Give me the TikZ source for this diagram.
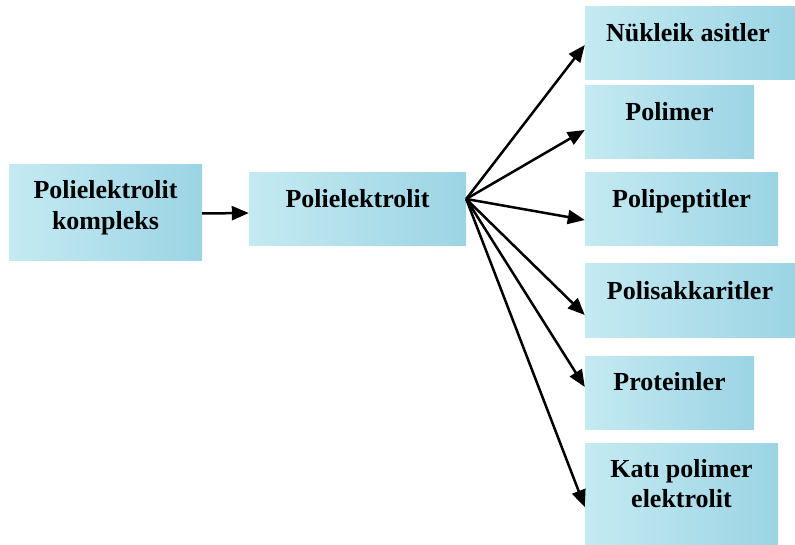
\documentclass[tikz,border=0pt]{standalone}
\usepackage{fontspec}
\setmainfont{Liberation Serif}
\usetikzlibrary{arrows.meta}
\definecolor{aqL}{RGB}{196,234,242}
\definecolor{aqR}{RGB}{156,212,228}
\tikzset{
  box/.style={draw=none, inner sep=0pt, left color=aqL, right color=aqR, shading angle=90},
  lbl/.style={font=\bfseries\fontsize{26}{31}\selectfont, inner sep=0pt, anchor=base},
  arr/.style={line width=2.5pt, -{Triangle[length=17pt,width=14pt]}}
}
\begin{document}
\begin{tikzpicture}[x=1pt,y=-1pt]
\useasboundingbox (0,0) rectangle (795,545);
% boxes
\node[box, minimum width=193, minimum height=96] (A) at (105.5,213) {};
\node[box, minimum width=217, minimum height=73] (B) at (357.5,209.5) {};
\node[box, minimum width=210, minimum height=73] (nuk) at (690,43.5) {};
\node[box, minimum width=169, minimum height=73] (pol) at (669.5,122) {};
\node[box, minimum width=193, minimum height=73] (pep) at (681.5,209.5) {};
\node[box, minimum width=210, minimum height=73] (sak) at (690,300.5) {};
\node[box, minimum width=169, minimum height=73] (pro) at (669.5,392.5) {};
\node[box, minimum width=193, minimum height=102] (kat) at (681.5,494) {};
% labels
\node[lbl] (tA1) at (105.5,199) {Polielektrolit};
\node[lbl] (tA2) at (105.5,230) {kompleks};
\node[lbl] (tB) at (357.5,208) {Polielektrolit};
\node[lbl] (tnuk) at (688,42) {Nükleik asitler};
\node[lbl] (tpol) at (669.5,121) {Polimer};
\node[lbl] (tpep) at (681.5,207.5) {Polipeptitler};
\node[lbl] (tsak) at (690,300) {Polisakkaritler};
\node[lbl] (tpro) at (669.5,390) {Proteinler};
\node[lbl] (tkat1) at (681.5,477) {Katı polimer};
\node[lbl] (tkat2) at (681.5,507) {elektrolit};
% connectors
\coordinate (hub) at ([yshift=10.5pt]B.east);
\draw[arr] ([yshift=-0.5pt]A.east) -- ([yshift=-3.5pt]B.west);
\draw[arr] (hub) -- ([yshift=-1.5pt]nuk.west);
\draw[arr] (hub) -- ([yshift=-8pt]pol.west);
\draw[arr] (hub) -- ([yshift=-10.5pt]pep.west);
\draw[arr] (hub) -- ([yshift=-14.5pt]sak.west);
\draw[arr] (hub) -- ([yshift=5.5pt]pro.west);
\draw[arr] (hub) -- ([yshift=-13pt]kat.west);
\end{tikzpicture}
\end{document}
